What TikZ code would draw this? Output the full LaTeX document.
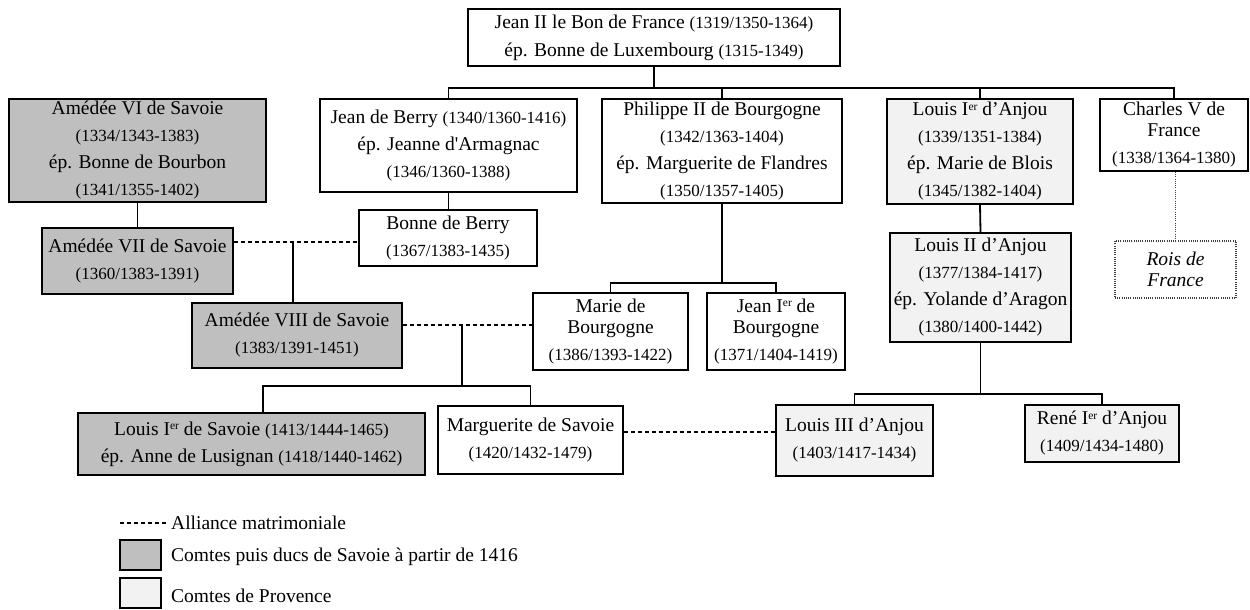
\documentclass[tikz,border=0pt]{standalone}
\usepackage{fontspec}
\setmainfont{Liberation Serif}
\definecolor{savoie}{HTML}{BFBFBF}
\definecolor{prov}{HTML}{F2F2F2}
\newcommand\nms{\fontsize{19.5}{21}\selectfont}
\newcommand\dts{\fontsize{17}{21}\selectfont}
\newcommand\ersup{\raisebox{0.62ex}{\fontsize{11.5}{12}\selectfont er}}
\tikzset{
 box/.style={draw, line width=1.8pt, inner sep=0pt, align=center, font=\nms, fill=white},
 sav/.style={box, fill=savoie},
 pro/.style={box, fill=prov},
 lnk/.style={line width=1.8pt},
 mar/.style={line width=1.4pt, dash pattern=on 4pt off 3pt},
 dots/.style={line width=1.3pt, dash pattern=on 1pt off 1.2pt, draw=black!75},
 legtxt/.style={anchor=west, inner sep=0pt, font=\nms},
}
\begin{document}
\begin{tikzpicture}[x=1pt,y=-1pt]
\useasboundingbox (0,0) rectangle (1250,610);
% generation 1
\node[box, minimum width=372pt, minimum height=57pt] (jean) at (654,37.5)
 {Jean II le Bon de France {\dts(1319/1350-1364)}\\[7pt]ép. Bonne de Luxembourg {\dts(1315-1349)}};
% generation 2
\node[sav, minimum width=257pt, minimum height=103pt] (amvi) at (137.5,150.5)
 {Amédée VI de Savoie\\[6pt]{\dts(1334/1343-1383)}\\[6pt]ép. Bonne de Bourbon\\[6pt]{\dts(1341/1355-1402)}};
\node[box, minimum width=257pt, minimum height=93pt] (berry) at (448.5,145.5)
 {Jean de Berry {\dts(1340/1360-1416)}\\[6pt]ép. Jeanne d\textquotesingle Armagnac\\[6pt]{\dts(1346/1360-1388)}};
\node[box, minimum width=240pt, minimum height=104pt] (phil) at (722,151)
 {Philippe II de Bourgogne\\[6pt]{\dts(1342/1363-1404)}\\[6pt]ép. Marguerite de Flandres\\[6pt]{\dts(1350/1357-1405)}};
\node[pro, minimum width=186pt, minimum height=105pt] (loui) at (980,151.5)
 {Louis I\ersup{} d’Anjou\\[6pt]{\dts(1339/1351-1384)}\\[6pt]ép. Marie de Blois\\[6pt]{\dts(1345/1382-1404)}};
\node[box, minimum width=148pt, minimum height=72pt] (charles) at (1174,135)
 {Charles V de\\France\\[6pt]{\dts(1338/1364-1380)}};
\node[box, dots, minimum width=121pt, minimum height=57pt] (rois) at (1175.5,269.5)
 {\itshape Rois de\\\itshape France};
% generation 3
\node[sav, minimum width=191pt, minimum height=66pt] (amvii) at (137.5,261)
 {Amédée VII de Savoie\\[6pt]{\dts(1360/1383-1391)}};
\node[box, minimum width=178pt, minimum height=56pt] (bonne) at (448,238)
 {Bonne de Berry\\[6pt]{\dts(1367/1383-1435)}};
\node[pro, minimum width=181pt, minimum height=109pt] (louii) at (980.5,287.5)
 {Louis II d’Anjou\\[6pt]{\dts(1377/1384-1417)}\\[6pt]ép. Yolande d’Aragon\\[6pt]{\dts(1380/1400-1442)}};
% generation 4
\node[sav, minimum width=210pt, minimum height=65pt] (amviii) at (297,335.5)
 {Amédée VIII de Savoie\\[6pt]{\dts(1383/1391-1451)}};
\node[box, minimum width=155pt, minimum height=77pt] (marie) at (610.5,331.5)
 {Marie de\\Bourgogne\\[6pt]{\dts(1386/1393-1422)}};
\node[box, minimum width=138pt, minimum height=77pt] (jeanb) at (776,331.5)
 {Jean I\ersup{} de\\Bourgogne\\[6pt]{\dts(1371/1404-1419)}};
% generation 5
\node[sav, minimum width=347pt, minimum height=62pt] (louisav) at (251.5,444)
 {Louis I\ersup{} de Savoie {\dts(1413/1444-1465)}\\[6pt]ép. Anne de Lusignan {\dts(1418/1440-1462)}};
\node[box, minimum width=185pt, minimum height=68pt] (marg) at (530.5,440)
 {Marguerite de Savoie\\[6pt]{\dts(1420/1432-1479)}};
\node[pro, minimum width=157pt, minimum height=71pt] (louiii) at (854.5,440.5)
 {Louis III d’Anjou\\[6pt]{\dts(1403/1417-1434)}};
\node[pro, minimum width=154pt, minimum height=57pt] (rene) at (1102,433.5)
 {René I\ersup{} d’Anjou\\[6pt]{\dts(1409/1434-1480)}};
% helper coordinates
\coordinate (b1) at (0,88);
\coordinate (m1) at (293,242);
\coordinate (m2) at (462,325);
\coordinate (b2) at (0,386);
\coordinate (d2) at (263,386);
\coordinate (b3) at (0,283);
\coordinate (b4) at (0,394);
\coordinate (m3) at (0,432);
% connectors
\draw[lnk] (jean.south) -- (jean.south |- b1);
\draw[lnk] (berry.north) |- (b1 -| charles.north) -- (charles.north);
\draw[lnk] (phil.north) -- (phil.north |- b1);
\draw[lnk] (loui.north) -- (loui.north |- b1);
\draw[lnk] (amvi.south) -- (amvii.north);
\draw[lnk] (berry.south) -- (bonne.north -| berry.south);
\draw[mar] (amvii.east |- m1) -- (bonne.west |- m1);
\draw[lnk] (m1) -- (m1 |- amviii.north);
\draw[mar] (amviii.east |- m2) -- (marie.west |- m2);
\draw[lnk] (m2) -- (m2 |- b2);
\draw[lnk] (d2 |- louisav.north) -- (d2) -| (marg.north);
\draw[lnk] (phil.south) -- (phil.south |- b3);
\draw[lnk] (marie.north) |- (b3 -| jeanb.north) -- (jeanb.north);
\draw[lnk] (loui.south) -- (louii.north);
\draw[lnk] (louii.south) -- (louii.south |- b4);
\draw[lnk] (louiii.north) |- (b4 -| rene.north) -- (rene.north);
\draw[mar] (marg.east |- m3) -- (louiii.west |- m3);
\draw[dots] (rois.north |- charles.south) -- (rois.north);
% legend
\coordinate (lg1) at (120,523);
\coordinate (lg2) at (166,523);
\draw[mar] (lg1) -- (lg2);
\node[legtxt] (lt1) at (171,523) {Alliance matrimoniale};
\node[sav, minimum width=41pt, minimum height=30pt] (lgs) at (140.5,555) {};
\node[legtxt] (lt2) at (171,557) {Comtes puis ducs de Savoie à partir de 1416};
\node[pro, minimum width=41pt, minimum height=30pt] (lgp) at (140.5,593) {};
\node[legtxt] (lt3) at (171,596) {Comtes de Provence};
\end{tikzpicture}
\end{document}
